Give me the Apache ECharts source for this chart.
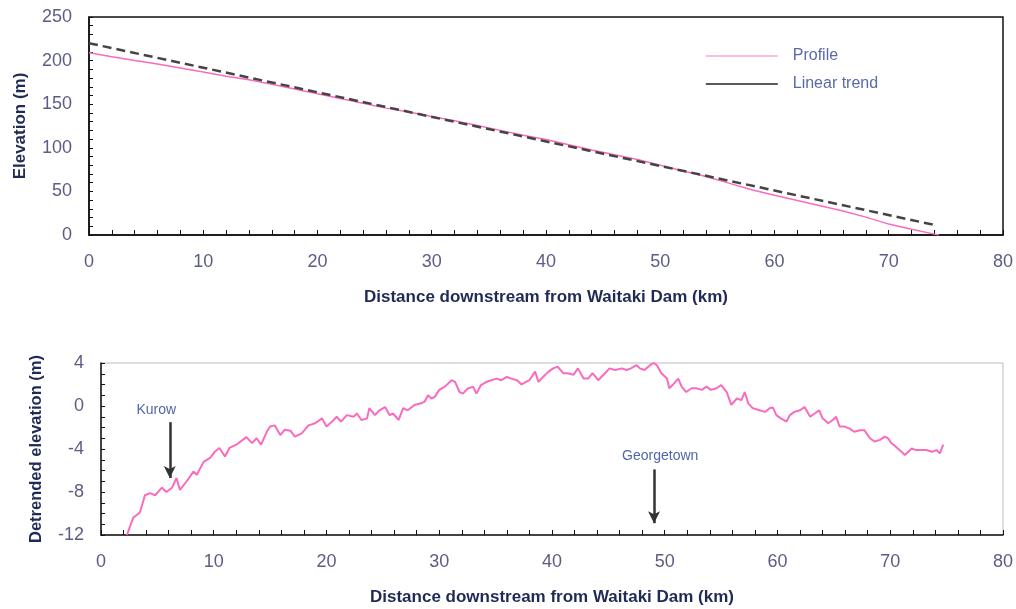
<!DOCTYPE html>
<html>
<head>
<meta charset="utf-8">
<script src="https://cdn.jsdelivr.net/npm/echarts@6/dist/echarts.min.js"></script>
<style>
  html, body { margin: 0; padding: 0; background: #fff; }
  #main { width: 1016px; height: 609px; }
</style>
</head>
<body>
<div id="main"></div>
<script>
// 上图：纵剖面 + 线性趋势
var profileKm = [0, 2, 4, 6, 8, 10, 12, 14, 16, 18, 20, 22, 24, 26, 28, 30, 32, 34, 36, 38, 40,
  42, 44, 46, 48, 50, 52, 54, 56, 58, 60, 62, 64, 66, 68, 70, 72, 74, 74.4];
var profileElev = [209, 204.5, 200, 196, 191.5, 187, 182, 178, 173, 167.5, 162, 156.5, 151, 145.5, 141,
  136, 131, 125.5, 120, 114.5, 109.5, 103.5, 97.5, 92, 86.5, 80, 73.5, 67, 59.5, 52,
  45.5, 39.5, 33.5, 27.5, 20.5, 12.5, 6.5, 1, 0];
var trendKm = [0, 74.2];
var trendElev = [220, 11];

// 下图：去趋势高程
var detrendKm = [2.3, 2.85, 3.45, 3.9, 4.35, 4.8, 5.4, 5.8, 6.3, 6.7, 7.0, 7.6, 8.2, 8.5, 9.1, 9.7,
  10.1, 10.5, 11.0, 11.4, 12.0, 12.9, 13.4, 13.8, 14.2, 14.7, 15.0, 15.4, 15.9, 16.3, 16.8, 17.2,
  17.8, 18.4, 19.0, 19.6, 20.0, 20.5, 20.9, 21.3, 21.8, 22.4, 22.7, 23.1, 23.6, 23.8, 24.3, 24.7,
  25.2, 25.6, 25.9, 26.4, 26.8, 27.2, 27.8, 28.4, 28.7, 29.0, 29.3, 29.6, 30.0, 30.5, 31.1, 31.4,
  31.8, 32.1, 32.5, 33.0, 33.3, 33.7, 34.2, 34.6, 35.1, 35.5, 36.0, 36.4, 36.9, 37.3, 37.7, 38.0,
  38.5, 38.8, 39.2, 39.7, 40.1, 40.5, 41.0, 41.4, 41.9, 42.3, 42.8, 43.2, 43.6, 44.1, 44.7, 45.1,
  45.6, 46.2, 46.6, 47.0, 47.5, 47.8, 48.2, 48.7, 49.0, 49.3, 49.7, 50.2, 50.4, 50.7, 51.2, 51.5,
  51.9, 52.4, 52.8, 53.3, 53.7, 54.1, 54.6, 55.0, 55.5, 55.9, 56.4, 56.8, 57.1, 57.4, 57.8, 58.4,
  58.9, 59.3, 59.6, 59.9, 60.3, 60.8, 61.1, 61.5, 62.0, 62.4, 62.9, 63.3, 63.7, 64.0, 64.5, 64.9,
  65.2, 65.5, 65.9, 66.4, 66.8, 67.3, 67.7, 68.2, 68.6, 69.1, 69.5, 69.8, 70.1, 70.5, 71.0, 71.3,
  71.6, 71.9, 72.3, 72.8, 73.2, 73.7, 74.1, 74.4, 74.7];
var detrendVal = [-12, -10.4, -9.9, -8.3, -8.1, -8.3, -7.6, -8.0, -7.6, -6.7, -7.8, -7.0, -6.1, -6.4, -5.2, -4.8,
  -4.25, -3.9, -4.7, -3.9, -3.6, -2.9, -3.45, -3.0, -3.6, -2.4, -1.9, -1.8, -2.7, -2.2, -2.3, -2.85,
  -2.55, -1.8, -1.6, -1.15, -1.9, -1.45, -1.0, -1.45, -0.85, -1.0, -0.7, -1.3, -1.15, -0.2, -0.85, -0.4,
  -0.1, -0.85, -0.7, -1.3, -0.2, -0.4, 0.1, 0.25, 0.4, 1.0, 0.7, 0.85, 1.5, 1.8, 2.4, 2.25,
  1.3, 1.15, 1.6, 1.8, 1.15, 1.95, 2.25, 2.4, 2.55, 2.4, 2.7, 2.55, 2.4, 2.0, 2.25, 2.4,
  3.2, 2.25, 2.7, 3.2, 3.5, 3.65, 3.05, 3.05, 2.9, 3.5, 2.55, 2.55, 3.05, 2.4, 3.05, 3.5,
  3.35, 3.5, 3.35, 3.5, 3.8, 3.5, 3.35, 3.8, 4.0, 3.8, 3.05, 2.55, 1.65, 1.95, 2.55, 1.8,
  1.3, 1.65, 1.65, 1.5, 1.8, 1.5, 1.65, 1.95, 1.3, 0.1, 0.7, 0.55, 1.3, 0.25, -0.2, -0.4,
  -0.55, -0.2, -0.15, -0.85, -1.15, -1.45, -0.85, -0.55, -0.4, -0.1, -1.0, -0.7, -0.4, -1.15, -1.6, -1.3,
  -1.0, -1.9, -1.9, -2.1, -2.4, -2.25, -2.25, -3.0, -3.3, -3.15, -2.85, -3.0, -3.45, -3.8, -4.25, -4.55,
  -4.25, -3.95, -4.1, -4.1, -4.1, -4.25, -4.1, -4.4, -3.6];

// 标注：地名及箭头位置 [km, 箭头起点, 箭头终点, 文字km, 文字高度]
var placeNames = ['Kurow', 'Georgetown'];
var placeArrows = [[6.1, -1.5, -6.7, 4.9, -0.35], [49.05, -5.9, -10.9, 49.6, -4.65]];

function zip(a, b) {
  return a.map(function (v, i) { return [v, b[i]]; });
}

var pink = '#fb6bbd';
var tickColor = '#5c5c85';
var titleColor = '#1f2a55';

function xAxisCfg(gridIndex) {
  return {
    type: 'value', gridIndex: gridIndex, min: 0, max: 80, interval: 10,
    name: 'Distance downstream from Waitaki Dam (km)',
    nameLocation: 'middle', nameGap: 54,
    nameTextStyle: { fontFamily: 'Liberation Sans', fontWeight: 'bold', fontSize: 17, color: titleColor },
    axisLine: { show: true, onZero: false, lineStyle: { color: '#111', width: 1.5 } },
    axisTick: { show: true, inside: true, length: 5, lineStyle: { color: '#111' } },
    minorTick: { show: true, splitNumber: 5, length: 5, lineStyle: { color: '#111' } },
    splitLine: { show: false },
    axisLabel: { margin: 18, fontFamily: 'Liberation Sans', fontSize: 18, color: tickColor }
  };
}

var myChart = echarts.init(document.getElementById('main'));

option = {
  animation: false,
  backgroundColor: '#fff',
  grid: [
    { left: 89, right: 13, top: 17, height: 218, show: true, borderColor: '#111', borderWidth: 1.5 },
    { left: 101, right: 12, top: 363, height: 172, show: true, borderColor: '#bbb', borderWidth: 1 }
  ],
  legend: {
    orient: 'vertical', left: 700, top: 43, itemWidth: 72, itemHeight: 14, itemGap: 12,
    itemStyle: { opacity: 0 },
    textStyle: { fontFamily: 'Liberation Sans', fontSize: 16, color: '#5a6aa8', padding: [0, 0, 0, 10] },
    data: [
      { name: 'Profile', lineStyle: { color: '#f7a8d4', width: 1.5 } },
      { name: 'Linear trend', lineStyle: { type: 'solid', color: '#222', width: 1.5 } }
    ]
  },
  xAxis: [xAxisCfg(0), xAxisCfg(1)],
  yAxis: [
    {
      type: 'value', gridIndex: 0, min: 0, max: 250, interval: 50,
      name: 'Elevation (m)', nameLocation: 'middle', nameGap: 60,
      nameTextStyle: { fontFamily: 'Liberation Sans', fontWeight: 'bold', fontSize: 17, color: titleColor },
      axisLine: { show: true, lineStyle: { color: '#111', width: 1.5 } },
      axisTick: { show: true, inside: true, length: 4, lineStyle: { color: '#111' } },
      minorTick: { show: true, splitNumber: 5, length: 4, lineStyle: { color: '#111' } },
      splitLine: { show: false },
      axisLabel: { margin: 17, fontFamily: 'Liberation Sans', fontSize: 18, color: tickColor }
    },
    {
      type: 'value', gridIndex: 1, min: -12, max: 4, interval: 4,
      name: 'Detrended elevation (m)', nameLocation: 'middle', nameGap: 56,
      nameTextStyle: { fontFamily: 'Liberation Sans', fontWeight: 'bold', fontSize: 16.5, color: titleColor },
      axisLine: { show: true, onZero: false, lineStyle: { color: '#111', width: 1.5 } },
      axisTick: { show: true, inside: true, length: 4, lineStyle: { color: '#111' } },
      minorTick: { show: true, splitNumber: 4, length: 4, lineStyle: { color: '#111' } },
      splitLine: { show: false },
      axisLabel: { margin: 17, fontFamily: 'Liberation Sans', fontSize: 18, color: tickColor }
    }
  ],
  series: [
    {
      name: 'Profile', type: 'line', xAxisIndex: 0, yAxisIndex: 0,
      symbol: 'none', data: zip(profileKm, profileElev),
      lineStyle: { color: pink, width: 1.5 }, itemStyle: { color: pink }, z: 2
    },
    {
      name: 'Linear trend', type: 'line', xAxisIndex: 0, yAxisIndex: 0,
      symbol: 'none', data: zip(trendKm, trendElev),
      lineStyle: { color: '#444', width: 2.5, type: [9, 5] }, itemStyle: { color: '#333' }, z: 3
    },
    {
      name: 'Detrended', type: 'line', xAxisIndex: 1, yAxisIndex: 1,
      symbol: 'none', data: zip(detrendKm, detrendVal),
      lineStyle: { color: pink, width: 2 }, itemStyle: { color: pink },
      markLine: {
        silent: true, animation: false,
        symbol: ['none', 'arrow'], symbolSize: [9, 12],
        lineStyle: { color: '#333', width: 2.5, type: 'solid' },
        label: { show: false },
        data: placeArrows.map(function (a) {
          return [{ coord: [a[0], a[1]] }, { coord: [a[0], a[2]] }];
        })
      },
      markPoint: {
        silent: true, animation: false, symbol: 'circle', symbolSize: 0,
        label: { show: true, position: 'inside', formatter: '{b}',
          fontFamily: 'Liberation Sans', fontSize: 14, color: '#5066a8' },
        data: placeArrows.map(function (a, i) {
          return { name: placeNames[i], coord: [a[3], a[4]] };
        })
      }
    }
  ]
};
myChart.setOption(option);
</script>
</body>
</html>
